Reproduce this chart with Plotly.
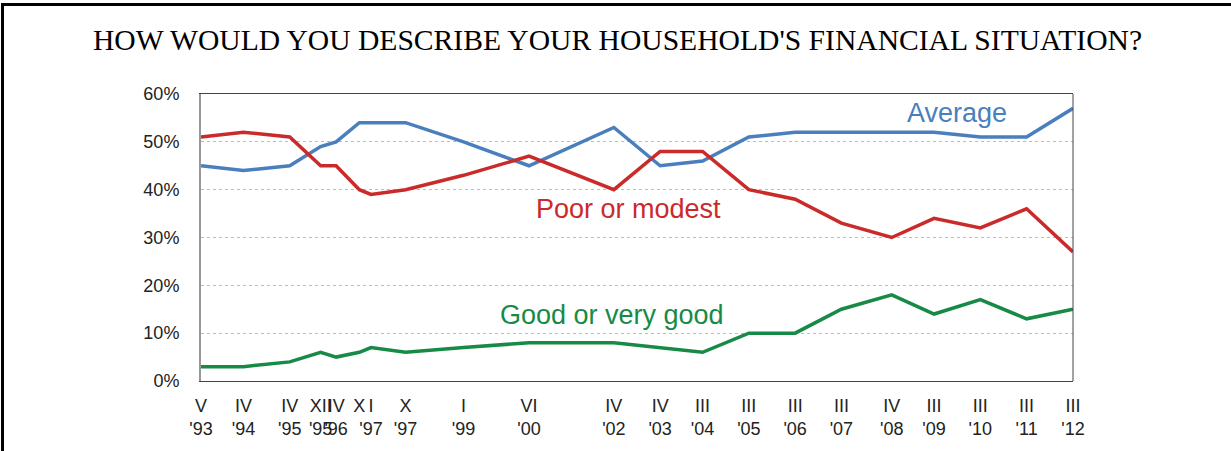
import plotly.graph_objects as go

# ---- data ----
dates = ["1993-05-01", "1994-04-01", "1995-04-01", "1995-12-01", "1996-04-01",
         "1996-10-01", "1997-01-01", "1997-10-01", "1999-01-01", "2000-06-01",
         "2002-04-01", "2003-04-01", "2004-03-01", "2005-03-01", "2006-03-01",
         "2007-03-01", "2008-04-01", "2009-03-01", "2010-03-01", "2011-03-01",
         "2012-03-01"]
tick_labels = ["V<br>'93", "IV<br>'94", "IV<br>'95", "XII<br>'95", "IV<br>'96",
               "X<br> ", "I<br>'97", "X<br>'97", "I<br>'99", "VI<br>'00",
               "IV<br>'02", "IV<br>'03", "III<br>'04", "III<br>'05", "III<br>'06",
               "III<br>'07", "IV<br>'08", "III<br>'09", "III<br>'10", "III<br>'11",
               "III<br>'12"]
average = [45, 44, 45, 49, 50, 54, 54, 54, 50, 45, 53, 45, 46, 51, 52, 52, 52, 52, 51, 51, 57]
poor_modest = [51, 52, 51, 45, 45, 40, 39, 40, 43, 47, 40, 48, 48, 40, 38, 33, 30, 34, 32, 36, 27]
good = [3, 3, 4, 6, 5, 6, 7, 6, 7, 8, 8, 7, 6, 10, 10, 15, 18, 14, 17, 13, 15]
y_ticks = [0, 10, 20, 30, 40, 50, 60]
y_tick_labels = ["0%", "10%", "20%", "30%", "40%", "50%", "60%"]
title_text = "HOW WOULD YOU DESCRIBE YOUR HOUSEHOLD'S FINANCIAL SITUATION?"

# ---- style ----
W, H = 1231, 451
ML, MR, MT, MB = 201, 158, 94, 68
BLUE, RED, GREEN = "#4A7FBD", "#CB2A2A", "#178A45"
SANS = "Liberation Sans, Arial, sans-serif"
SERIF = "Liberation Serif, Times New Roman, serif"

def px_x(px):
    return (px - ML) / (W - ML - MR)

def px_y(py):
    return (H - MB - py) / (H - MT - MB)

fig = go.Figure()
for vals, col, name in [(average, BLUE, "Average"), (poor_modest, RED, "Poor or modest"),
                        (good, GREEN, "Good or very good")]:
    fig.add_trace(go.Scatter(x=dates, y=vals, mode="lines", name=name,
                             line=dict(color=col, width=3.5), showlegend=False))

fig.update_layout(
    width=W, height=H,
    margin=dict(l=ML, r=MR, t=MT, b=MB, pad=0),
    paper_bgcolor="white", plot_bgcolor="white",
    font=dict(family=SANS, size=18, color="#222"),
    xaxis=dict(type="date", range=[dates[0], dates[-1]], tickmode="array",
               tickvals=dates, ticktext=tick_labels, showgrid=False, tickangle=0,
               showline=True, linecolor="#444", linewidth=1, mirror=True,
               ticks="", tickfont=dict(size=18, color="#222"), ticklabelstandoff=8),
    yaxis=dict(range=[0, 60], tickmode="array", tickvals=y_ticks, ticktext=y_tick_labels,
               showgrid=True, gridcolor="#BBBBBB", griddash="dot", gridwidth=1,
               showline=True, linecolor="#999", linewidth=2, zeroline=False,
               ticks="", tickfont=dict(size=18, color="#222"), ticklabelstandoff=16),
    annotations=[
        dict(text=title_text, xref="paper", yref="paper", x=px_x(617), y=px_y(40),
             xanchor="center", yanchor="middle", showarrow=False,
             font=dict(family=SERIF, size=29.6, color="#000")),
        dict(text="Average", xref="paper", yref="paper", x=px_x(957), y=px_y(113),
             xanchor="center", yanchor="middle", showarrow=False,
             font=dict(size=27, color=BLUE)),
        dict(text="Poor or modest", xref="paper", yref="paper", x=px_x(628), y=px_y(210),
             xanchor="center", yanchor="middle", showarrow=False,
             font=dict(size=27, color=RED)),
        dict(text="Good or very good", xref="paper", yref="paper", x=px_x(612), y=px_y(317),
             xanchor="center", yanchor="middle", showarrow=False,
             font=dict(size=27, color=GREEN)),
    ],
    shapes=[
        dict(type="line", xref="paper", yref="paper", x0=1, x1=1, y0=0, y1=1,
             line=dict(color="#444", width=1)),
        dict(type="line", xref="paper", yref="paper", x0=px_x(1), x1=px_x(1231),
             y0=px_y(4), y1=px_y(4), line=dict(color="#000", width=3)),
        dict(type="line", xref="paper", yref="paper", x0=px_x(2.5), x1=px_x(2.5),
             y0=px_y(3), y1=px_y(460), line=dict(color="#000", width=3)),
    ],
)

fig.write_html("out.html")
